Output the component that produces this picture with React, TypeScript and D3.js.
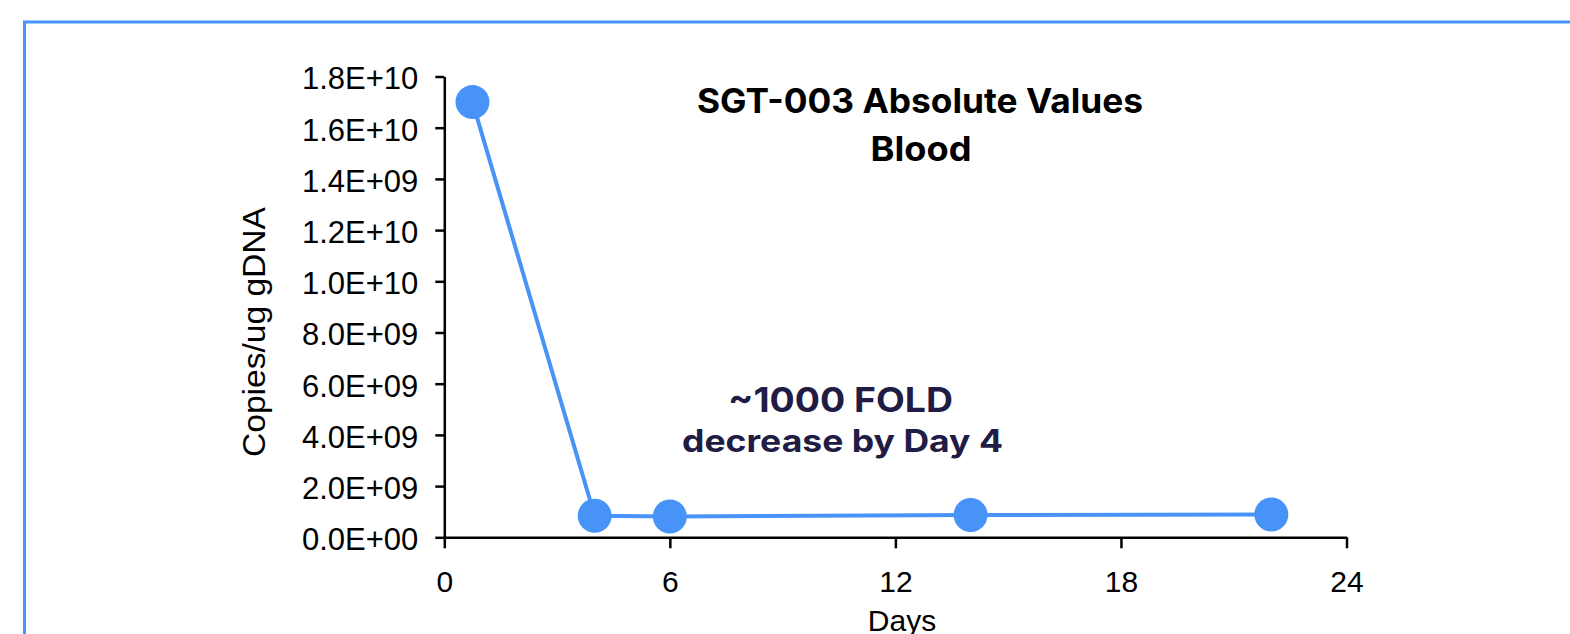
import React, { useEffect, useRef } from "react";
import * as d3 from "d3";

// Sampling days and measured vector copies per ug of genomic DNA
const days: number[] = [0.75, 4, 6, 14, 22];
const copies: number[] = [1.7e10, 8.4e8, 8.1e8, 8.7e8, 8.9e8];

// Axis ticks and their printed labels
const xTicks: number[] = [0, 6, 12, 18, 24];
const yTicks: number[] = [0, 2e9, 4e9, 6e9, 8e9, 1e10, 1.2e10, 1.4e10, 1.6e10, 1.8e10];
const yTickLabels: string[] = [
  "0.0E+00",
  "2.0E+09",
  "4.0E+09",
  "6.0E+09",
  "8.0E+09",
  "1.0E+10",
  "1.2E+10",
  "1.4E+09",
  "1.6E+10",
  "1.8E+10",
];

const titleLines: string[] = ["SGT-003 Absolute Values", "Blood"];
const noteLines: string[] = ["~1000 FOLD", "decrease by Day 4"];

const W = 1570;
const H = 634;
const BLUE = "#4793F8";
const NAVY = "#211C45";
const AXIS_FONT = "'Liberation Sans', Arial, sans-serif";
const TITLE_FONT = "Inter, 'Noto Sans', sans-serif";

export default function App() {
  const xAxisRef = useRef<SVGGElement>(null);
  const yAxisRef = useRef<SVGGElement>(null);

  const x = d3.scaleLinear().domain([0, 24]).range([444.3, 1346.5]);
  const y = d3.scaleLinear().domain([0, 1.8e10]).range([537.3, 76.5]);

  const line = d3
    .line<number>()
    .x((_, i) => x(days[i]))
    .y((d) => y(d));

  useEffect(() => {
    if (xAxisRef.current) {
      const g = d3.select(xAxisRef.current);
      g.call(
        d3
          .axisBottom(x)
          .tickValues(xTicks)
          .tickSize(11)
          .tickPadding(22)
          .tickSizeOuter(0)
          .tickFormat((d) => String(d))
      );
      g.select(".domain").attr("stroke", "#000").attr("stroke-width", 2.5);
      g.selectAll(".tick line").attr("stroke", "#000").attr("stroke-width", 2.5);
      g.selectAll(".tick text")
        .attr("fill", "#000")
        .style("font-family", AXIS_FONT)
        .style("font-size", "30px");
      g.attr("font-family", null).attr("font-size", null);
    }
    if (yAxisRef.current) {
      const g = d3.select(yAxisRef.current);
      g.call(
        d3
          .axisLeft(y)
          .tickValues(yTicks)
          .tickSize(9)
          .tickPadding(17)
          .tickSizeOuter(0)
          .tickFormat((_, i) => yTickLabels[i])
      );
      g.select(".domain").attr("stroke", "#000").attr("stroke-width", 2.5);
      g.selectAll(".tick line").attr("stroke", "#000").attr("stroke-width", 2.5);
      g.selectAll(".tick text")
        .attr("fill", "#000")
        .attr("dy", "0.4em")
        .style("font-family", AXIS_FONT)
        .style("font-size", "31px");
      g.attr("font-family", null).attr("font-size", null);
    }
  }, []);

  return (
    <svg
      width={W}
      height={H}
      viewBox={`0 0 ${W} ${H}`}
      style={{ position: "absolute", left: 0, top: 0, background: "#fff" }}
    >
      <rect x={0} y={0} width={W} height={H} fill="#fff" />
      {/* frame around the slide panel */}
      <rect
        x={24.5}
        y={22}
        width={W + 40}
        height={H + 40}
        fill="none"
        stroke={BLUE}
        strokeWidth={3}
      />

      <g ref={yAxisRef} transform={`translate(${x(0)},0)`} />
      <g ref={xAxisRef} transform={`translate(0,${y(0)})`} />

      <text
        transform={`translate(265,332) rotate(-90)`}
        textAnchor="middle"
        fontFamily={AXIS_FONT}
        fontSize={31}
        textLength={250}
        lengthAdjust="spacingAndGlyphs"
        fill="#000"
      >
        Copies/ug gDNA
      </text>
      <text
        x={902}
        y={631}
        textAnchor="middle"
        fontFamily={AXIS_FONT}
        fontSize={30}
        fill="#000"
      >
        Days
      </text>

      <path d={line(copies) || ""} fill="none" stroke={BLUE} strokeWidth={4} />
      {copies.map((v, i) => (
        <circle key={i} cx={x(days[i])} cy={y(v)} r={17} fill={BLUE} />
      ))}

      <text
        x={920}
        y={113}
        textAnchor="middle"
        fontFamily={TITLE_FONT}
        fontWeight={700}
        fontSize={34}
        textLength={446}
        lengthAdjust="spacingAndGlyphs"
        fill="#000"
      >
        {titleLines[0]}
      </text>
      <text
        x={921}
        y={160.5}
        textAnchor="middle"
        fontFamily={TITLE_FONT}
        fontWeight={700}
        fontSize={34}
        textLength={101}
        lengthAdjust="spacingAndGlyphs"
        fill="#000"
      >
        {titleLines[1]}
      </text>

      <text
        x={840.5}
        y={411.7}
        textAnchor="middle"
        fontFamily={TITLE_FONT}
        fontWeight={700}
        fontSize={34}
        textLength={225}
        lengthAdjust="spacingAndGlyphs"
        fill={NAVY}
      >
        {noteLines[0]}
      </text>
      <text
        x={842.5}
        y={451.7}
        textAnchor="middle"
        fontFamily={TITLE_FONT}
        fontWeight={700}
        fontSize={31}
        textLength={321}
        lengthAdjust="spacingAndGlyphs"
        fill={NAVY}
      >
        {noteLines[1]}
      </text>
    </svg>
  );
}
